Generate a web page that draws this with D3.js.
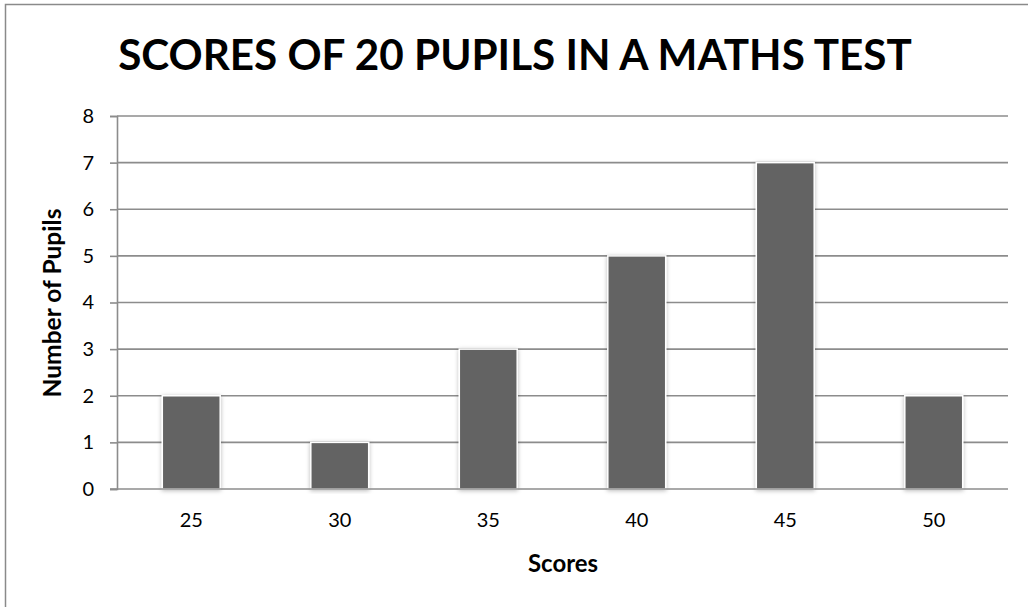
<!DOCTYPE html>
<html><head><meta charset="utf-8">
<script src="https://cdn.jsdelivr.net/npm/d3@7"></script>
<style>body{margin:0;background:#fff}svg{display:block}</style>
</head><body>
<svg id="c" width="1028" height="607"></svg>
<script>
const categories = ["25","30","35","40","45","50"];
const values = [2,1,3,5,7,2];
const yTicks = [0,1,2,3,4,5,6,7,8];
const title = "SCORES OF 20 PUPILS IN A MATHS TEST";
const xTitle = "Scores";
const yTitle = "Number of Pupils";

const svg = d3.select("#c");
const font = "Lato, 'Open Sans', sans-serif";
const L=117, R=1008, T=116, B=489;

const defs = svg.append("defs");
const f = defs.append("filter").attr("id","sh").attr("x","-30%").attr("y","-10%").attr("width","160%").attr("height","120%");
f.append("feDropShadow").attr("dx",0).attr("dy",1).attr("stdDeviation",2.2).attr("flood-color","#000").attr("flood-opacity",0.28);

svg.append("rect").attr("x",5.5).attr("y",4.5).attr("width",1040).attr("height",620)
  .attr("fill","#fff").attr("stroke","#8a8a8a").attr("stroke-width",1.5);

const x = d3.scaleBand().domain(categories).range([L,R]).paddingInner(0.61).paddingOuter(0.305);
const y = d3.scaleLinear().domain([0,8]).range([B,T]);

// gridlines
svg.append("g").selectAll("line").data(yTicks.filter(d=>d>0)).join("line")
  .attr("x1",L).attr("x2",R).attr("y1",d=>y(d)).attr("y2",d=>y(d))
  .attr("stroke","#8c8c8c").attr("stroke-width",1.6);

// y axis
const yAxis = svg.append("g").attr("transform",`translate(${L},0)`)
  .call(d3.axisLeft(y).tickValues(yTicks).tickSize(7).tickPadding(16).tickFormat(d3.format("d")));
yAxis.attr("font-size",null).attr("font-family",null);
yAxis.select(".domain").attr("stroke","#8c8c8c").attr("stroke-width",1.6);
yAxis.selectAll(".tick line").attr("stroke","#8c8c8c").attr("stroke-width",1.6);
yAxis.selectAll("text").style("font-family",font).style("font-size","20px").attr("fill","#000");

// bars
svg.append("g").selectAll("rect").data(values).join("rect")
  .attr("x",(d,i)=>x(categories[i])).attr("width",x.bandwidth())
  .attr("y",d=>y(d)).attr("height",d=>y(0)-y(d))
  .attr("fill","#646464").attr("stroke","#fff").attr("stroke-width",1.5)
  .attr("filter","url(#sh)");

// x axis
const xAxis = svg.append("g").attr("transform",`translate(0,${B})`)
  .call(d3.axisBottom(x).tickSize(0).tickPadding(24));
xAxis.attr("font-size",null).attr("font-family",null);
xAxis.select(".domain").attr("stroke","#8c8c8c").attr("stroke-width",1.6).attr("d",`M${L-7},0H${R}`);
xAxis.selectAll("text").style("font-family",font).style("font-size","20px").attr("fill","#000");

// title
const t = svg.append("text").attr("x",515).attr("y",70).attr("text-anchor","middle")
  .style("font-family",font).attr("font-weight","bold").style("font-size","40px").attr("fill","#000").text(title);
const tw = t.node().getComputedTextLength();
t.style("font-size",(40*794/tw)+"px");

const xt = svg.append("text").attr("x",563).attr("y",572).attr("text-anchor","middle")
  .style("font-family",font).attr("font-weight","bold").style("font-size","18px").attr("fill","#000").text(xTitle);
const yt = svg.append("text").attr("transform","translate(61,303) rotate(-90)").attr("text-anchor","middle")
  .style("font-family",font).attr("font-weight","bold").style("font-size","18px").attr("fill","#000").text(yTitle);
const yw = yt.node().getComputedTextLength();
yt.style("font-size",(18*189/yw)+"px");
const xw = xt.node().getComputedTextLength();
xt.style("font-size",(18*70/xw)+"px");
</script>
</body></html>
